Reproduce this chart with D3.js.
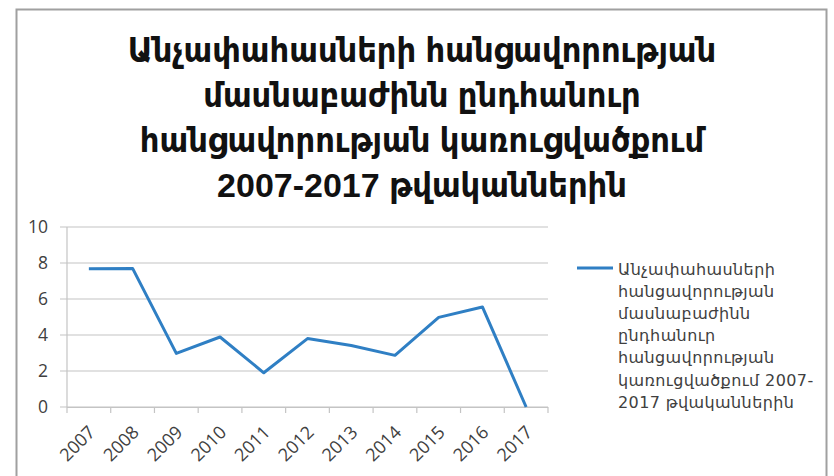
<!DOCTYPE html>
<html><head><meta charset="utf-8">
<script src="https://cdn.jsdelivr.net/npm/d3@7"></script>
<style>
html,body{margin:0;padding:0;background:#fff;}
svg{display:block;}
</style></head>
<body><svg id="c" width="834" height="476"></svg>
<script>
const titleLines = ["Անչափահասների հանցավորության","մասնաբաժինն ընդհանուր","հանցավորության կառուցվածքում","2007-2017 թվականներին"];
const categories = ["2007","2008","2009","2010","2011","2012","2013","2014","2015","2016","2017"];
const values = [7.68, 7.7, 2.98, 3.89, 1.9, 3.8, 3.42, 2.87, 4.98, 5.56, 0];
const yTicks = [0, 2, 4, 6, 8, 10];
const legendLines = ["Անչափահասների","հանցավորության","մասնաբաժինն","ընդհանուր","հանցավորության","կառուցվածքում 2007-","2017 թվականներին"];

const svg = d3.select("#c");
svg.append("rect").attr("x",16.5).attr("y",9.5).attr("width",810).attr("height",480)
  .attr("fill","#fff").attr("stroke","#a0a0a0").attr("stroke-width",2);

// title
const tg = svg.append("g");
const titleFont = "'Liberation Sans', 'DejaVu Sans Condensed', 'DejaVu Sans', sans-serif";
tg.selectAll("text").data(titleLines).join("text")
  .attr("x",422).attr("y",(d,i)=>50+i*45).attr("dy","0.35em")
  .attr("text-anchor","middle").attr("font-family",titleFont)
  .attr("font-weight","bold").attr("font-size",34).attr("fill","#111")
  .text(d=>d);

const x = d3.scaleBand().domain(categories).range([67,548]);
const y = d3.scaleLinear().domain([0,10]).range([407,227]);

// gridlines
svg.append("g").selectAll("line").data(yTicks).join("line")
  .attr("x1",60).attr("x2",548).attr("y1",d=>y(d)).attr("y2",d=>y(d))
  .attr("stroke","#c4c4c4").attr("stroke-width",1.2);
// vertical axis line
svg.append("line").attr("x1",67).attr("x2",67).attr("y1",y(10)).attr("y2",y(0))
  .attr("stroke","#c4c4c4").attr("stroke-width",1.2);

const labelFont = "'Open Sans', sans-serif";
// y labels
svg.append("g").selectAll("text").data(yTicks).join("text")
  .attr("x",48).attr("y",d=>y(d)).attr("dy","0.36em").attr("text-anchor","end")
  .attr("font-family",labelFont).attr("font-size",17.5).attr("fill","#404040")
  .text(d=>d);

// x axis
const xAxis = d3.axisBottom(x).tickSize(0).tickSizeOuter(0);
const xg = svg.append("g").attr("transform","translate(0,407)").call(xAxis);
xg.select(".domain").attr("stroke","#c4c4c4").attr("stroke-width",1.2).attr("d","M67,0.5H548");
xg.selectAll(".tick line").remove();
const edges = categories.map(c=>x(c)).concat([548]);
xg.selectAll(".edge").data(edges).join("line").attr("class","edge")
  .attr("x1",d=>d).attr("x2",d=>d).attr("y1",0).attr("y2",6)
  .attr("stroke","#c4c4c4").attr("stroke-width",1.2);
xg.selectAll(".tick text").attr("font-family",labelFont).attr("font-size",18).attr("fill","#404040")
  .attr("text-anchor","end").attr("x",0).attr("y",0).attr("dy","0.35em")
  .attr("transform","translate(3,22) rotate(-45)");

// line
const line = d3.line().x((d,i)=>x(categories[i])+x.bandwidth()/2).y(d=>y(d));
svg.append("path").datum(values).attr("d",line).attr("fill","none")
  .attr("stroke","#2f7fc4").attr("stroke-width",3).attr("stroke-linejoin","round");

// legend
svg.append("line").attr("x1",577).attr("x2",613).attr("y1",268).attr("y2",268)
  .attr("stroke","#2f7fc4").attr("stroke-width",3);
svg.append("g").selectAll("text").data(legendLines).join("text")
  .attr("x",618).attr("y",(d,i)=>269+i*22.2).attr("dy","0.35em")
  .attr("font-family","'DejaVu Sans', sans-serif").attr("font-size",16).attr("letter-spacing",0.4).attr("fill","#404040")
  .text(d=>d);
</script></body></html>
